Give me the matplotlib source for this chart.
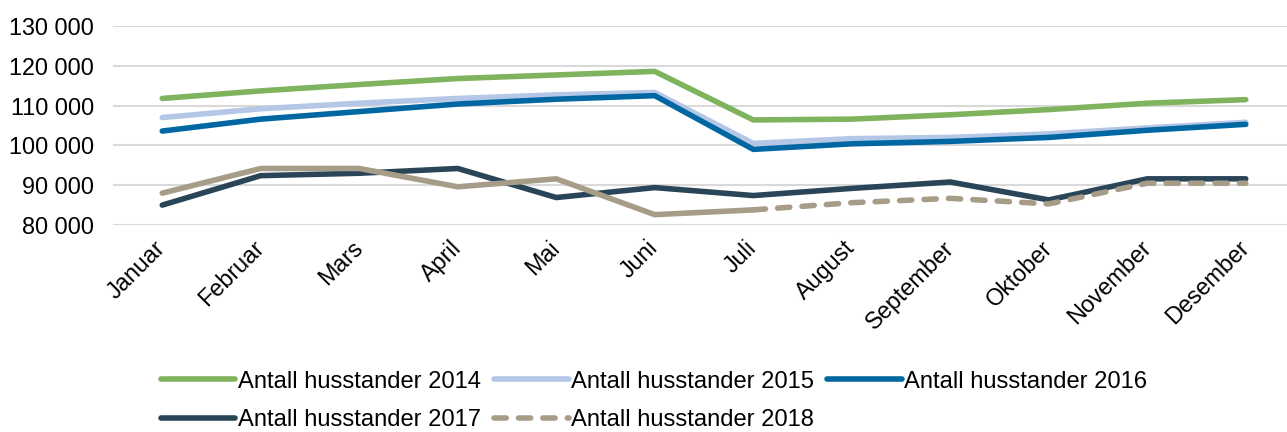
import matplotlib
matplotlib.use("Agg")
import matplotlib.pyplot as plt
from matplotlib.ticker import FuncFormatter

plt.rcParams['font.family'] = ['Liberation Sans', 'DejaVu Sans']

months = ["Januar", "Februar", "Mars", "April", "Mai", "Juni", "Juli",
          "August", "September", "Oktober", "November", "Desember"]

h2014 = [111800, 113700, 115300, 116800, 117700, 118600, 106400, 106600, 107700, 109000, 110600, 111500]
h2015 = [107000, 109200, 110600, 111800, 112700, 113300, 100500, 101700, 102000, 102900, 104400, 105800]
h2016 = [103600, 106600, 108500, 110400, 111600, 112500, 99000, 100400, 101000, 102000, 103800, 105300]
h2017 = [85000, 92400, 93000, 94200, 86900, 89400, 87400, 89200, 90800, 86300, 91600, 91600]
h2018 = [88000, 94200, 94200, 89600, 91600, 82600, 83800, 85600, 86700, 85300, 90500, 90500]

W, H = 1287, 432
fig = plt.figure(figsize=(W / 100, H / 100), dpi=100)
ax = fig.add_axes([113 / W, 207 / H, 1182 / W, 199 / H])

x = list(range(len(months)))
lw = 4.0
l14, = ax.plot(x, h2014, color='#7fb35d', lw=lw, solid_capstyle='round', label="Antall husstander 2014")
l15, = ax.plot(x, h2015, color='#b4c7e7', lw=lw, solid_capstyle='round', label="Antall husstander 2015")
l16, = ax.plot(x, h2016, color='#0067a3', lw=lw, solid_capstyle='round', label="Antall husstander 2016")
l17, = ax.plot(x, h2017, color='#2b4558', lw=lw, solid_capstyle='round', label="Antall husstander 2017")
# 2018: solid up to Juli, dashed after
ax.plot(x[:7], h2018[:7], color='#a69c88', lw=lw, solid_capstyle='round')
l18, = ax.plot(x[6:], h2018[6:], color='#a69c88', lw=lw, linestyle=(0, (2.2, 2.2)),
               dash_capstyle='round', label="Antall husstander 2018")

ax.set_xlim(-0.5, 11.5)
ax.set_ylim(80000, 130000)
ax.set_yticks(range(80000, 130001, 10000))
ax.yaxis.set_major_formatter(FuncFormatter(lambda v, p: f"{v:,.0f}".replace(",", " ")))
ax.set_xticks(x)
ax.set_xticklabels(months, rotation=45, ha='right', va='center', rotation_mode='anchor')
ax.tick_params(axis='both', length=0, labelsize=16.8)
ax.tick_params(axis='y', pad=13.5)
ax.tick_params(axis='x', pad=14)
ax.grid(axis='y', color='#d9d9d9', lw=1.5)
ax.set_axisbelow(True)
for s in ax.spines.values():
    s.set_visible(False)

handles = [l14, l17, l15, l18, l16]
fig.legend(handles=handles, labels=[h.get_label() for h in handles], ncol=3,
           loc='center', bbox_to_anchor=(654 / W, 1 - 401 / H), frameon=False,
           fontsize=17.1, handlelength=3.15, handletextpad=0.1, columnspacing=0.55,
           labelspacing=0.7)

fig.savefig("out.png", dpi=100)
